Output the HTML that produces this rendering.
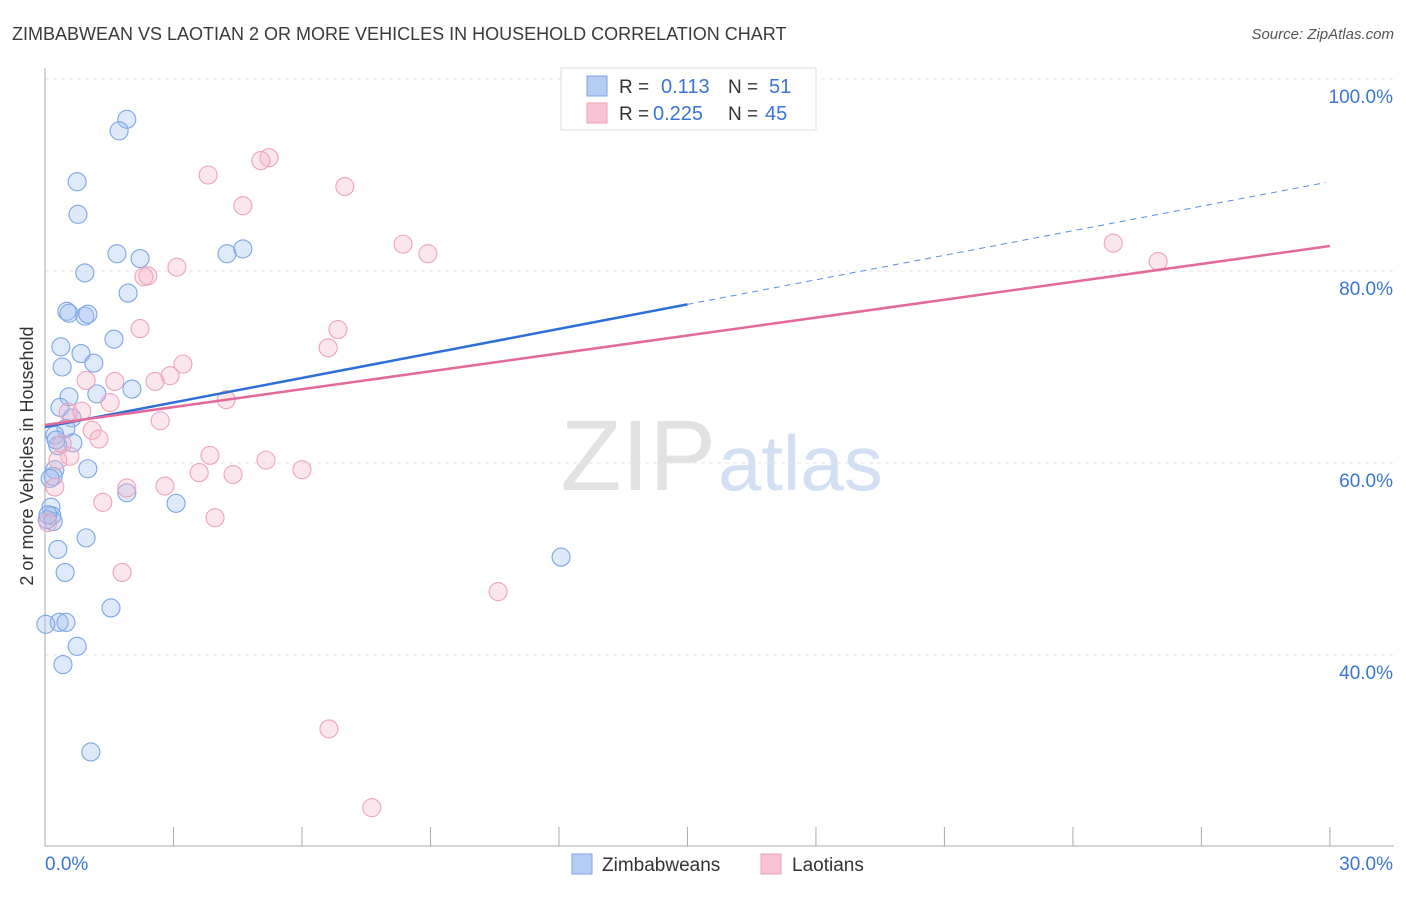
<!DOCTYPE html>
<html><head><meta charset="utf-8"><style>
body{margin:0;background:#fff;font-family:"Liberation Sans",sans-serif;}
svg text{font-family:"Liberation Sans",sans-serif;}
</style></head><body>
<svg id="chart" width="1406" height="892">
<text x="12" y="40" font-size="18" fill="#3a3a3a">ZIMBABWEAN VS LAOTIAN 2 OR MORE VEHICLES IN HOUSEHOLD CORRELATION CHART</text>
<text x="1394" y="39" font-size="15" fill="#555" font-style="italic" text-anchor="end">Source: ZipAtlas.com</text>
<text x="0" y="0" transform="translate(33,456) rotate(-90)" font-size="18" fill="#333" text-anchor="middle">2 or more Vehicles in Household</text>
<text x="716" y="490" font-size="100" fill="#e2e2e2" text-anchor="end" font-family="Liberation Serif">ZIP</text>
<text x="718" y="490" font-size="78" fill="#d3e0f3">atlas</text>
<g id="grid"></g><g id="axes"></g><g id="pts"></g><g id="lines"></g>
<g>
<rect x="561" y="68" width="255" height="62" fill="#fff" stroke="#ddd"/>
<rect x="587" y="76" width="20" height="20" fill="#b5cdf2" stroke="#7aa4e0"/>
<rect x="587" y="103" width="20" height="20" fill="#f7c3d3" stroke="#eaa0b9"/>
<text x="619" y="93" font-size="19" fill="#333">R = </text><text x="661" y="93" font-size="20" fill="#3c74d6">0.113</text>
<text x="728" y="93" font-size="19" fill="#333">N = </text><text x="769" y="93" font-size="20" fill="#3c74d6">51</text>
<text x="619" y="120" font-size="19" fill="#333">R = </text><text x="653" y="120" font-size="20" fill="#3c74d6">0.225</text>
<text x="728" y="120" font-size="19" fill="#333">N = </text><text x="765" y="120" font-size="20" fill="#3c74d6">45</text>
</g>
<g>
<rect x="572" y="854" width="20" height="20" fill="#b5cdf2" stroke="#7aa4e0"/>
<text x="602" y="871" font-size="19" fill="#333">Zimbabweans</text>
<rect x="761" y="854" width="20" height="20" fill="#f7c3d3" stroke="#eaa0b9"/>
<text x="792" y="871" font-size="19" fill="#333">Laotians</text>
</g>
</svg>
<script>
const yTicks=[40,60,80,100];
const yTickLabels=["40.0%","60.0%","80.0%","100.0%"];
const xTickLabels=["0.0%","30.0%"];
const blueX=[1.91,1.73,0.75,0.77,1.68,2.22,4.25,4.62,0.93,1.94,0.51,0.56,0.93,1.0,1.61,0.37,0.84,0.40,1.14,2.03,0.56,1.21,0.35,0.63,0.49,0.23,0.65,0.30,1.0,0.23,0.19,1.91,3.06,0.14,0.16,0.19,0.05,0.96,0.30,12.05,0.47,1.54,0.33,0.49,0.02,0.75,0.42,1.07,0.12,0.26,0.07];
const blueY=[95.8,94.6,89.3,85.9,81.8,81.3,81.8,82.3,79.8,77.7,75.8,75.6,75.3,75.5,72.9,72.1,71.4,70.0,70.4,67.7,66.9,67.2,65.8,64.7,63.6,62.9,62.1,61.8,59.4,59.3,58.6,56.9,55.8,55.4,54.5,53.9,54.1,52.2,51.0,50.2,48.6,44.9,43.4,43.4,43.2,40.9,39.0,29.9,58.4,62.4,54.6];
const pinkX=[5.23,5.04,3.81,4.62,7.00,8.36,8.94,24.94,25.99,3.08,2.40,2.31,6.84,2.22,6.61,3.22,2.92,0.96,1.63,2.57,1.52,4.23,0.54,0.86,2.69,1.10,1.26,0.40,0.58,3.85,5.16,6.00,3.60,4.39,2.80,1.91,0.23,1.35,3.97,0.07,1.80,10.58,6.63,7.63,0.30];
const pinkY=[91.8,91.5,90.0,86.8,88.8,82.8,81.8,82.9,81.0,80.4,79.5,79.4,73.9,74.0,72.0,70.3,69.1,68.6,68.5,68.5,66.3,66.6,65.3,65.4,64.4,63.4,62.5,62.0,60.7,60.8,60.3,59.3,59.0,58.8,57.6,57.4,57.5,55.9,54.3,53.8,48.6,46.6,32.3,24.1,60.3];
const blueTrend=[63.75,89.3];
const blueSolidEnd=15.0;
const pinkTrend=[63.96,82.6];
const NS="http://www.w3.org/2000/svg";
const X=v=>45+v*42.83, Y=v=>79+(100-v)*9.6;
function mk(p,t,a){const e=document.createElementNS(NS,t);for(const k in a)e.setAttribute(k,a[k]);p.appendChild(e);return e;}
const grid=document.getElementById('grid'),axes=document.getElementById('axes');
yTicks.forEach((t,i)=>{
 const l=mk(grid,'line',{x1:45,x2:1394,y1:Y(t),y2:Y(t),stroke:'#e6e6e6','stroke-dasharray':'4,4'});
 
 
 const tx=mk(axes,'text',{x:1393,y:Y(t)+24,'font-size':19,fill:'#3c74d6','text-anchor':'end'});tx.textContent=yTickLabels[i];
 
 
});
mk(axes,'line',{x1:45,x2:45,y1:68,y2:846,stroke:'#aaa'});
mk(axes,'line',{x1:45,x2:1394,y1:846,y2:846,stroke:'#aaa'});
for(let i=0;i<=10;i++){mk(axes,'line',{x1:X(i*3),x2:X(i*3),y1:827,y2:846,stroke:'#aaa'});}
const xl0=mk(axes,'text',{x:45,y:870,'font-size':19,fill:'#3c74d6'});xl0.textContent=xTickLabels[0];


const xl1=mk(axes,'text',{x:1393,y:870,'font-size':19,fill:'#3c74d6','text-anchor':'end'});xl1.textContent=xTickLabels[1];


const pts=document.getElementById('pts');
blueX.forEach((x,i)=>{const c=mk(pts,'circle',{cx:X(x),cy:Y(blueY[i]),r:9,fill:'rgba(160,192,240,0.35)',stroke:'#7ba6e3','stroke-width':1.1});
 
 });
pinkX.forEach((x,i)=>{const c=mk(pts,'circle',{cx:X(x),cy:Y(pinkY[i]),r:9,fill:'rgba(246,178,200,0.32)',stroke:'#eca3bc','stroke-width':1.1});
 
 });
const ln=document.getElementById('lines');
const by=x=>blueTrend[0]+(blueTrend[1]-blueTrend[0])*x/30;
const b1=mk(ln,'line',{x1:X(0),y1:Y(by(0)),x2:X(blueSolidEnd),y2:Y(by(blueSolidEnd)),stroke:'#2c6fd6','stroke-width':2.5});


const b2=mk(ln,'line',{x1:X(blueSolidEnd),y1:Y(by(blueSolidEnd)),x2:X(29.9),y2:Y(by(29.9)),stroke:'#5b8fe0','stroke-width':1,'stroke-dasharray':'6,5'});


const p1=mk(ln,'line',{x1:X(0),y1:Y(pinkTrend[0]),x2:X(30),y2:Y(pinkTrend[1]),stroke:'#e4699a','stroke-width':2.5});


</script>
</body></html>
